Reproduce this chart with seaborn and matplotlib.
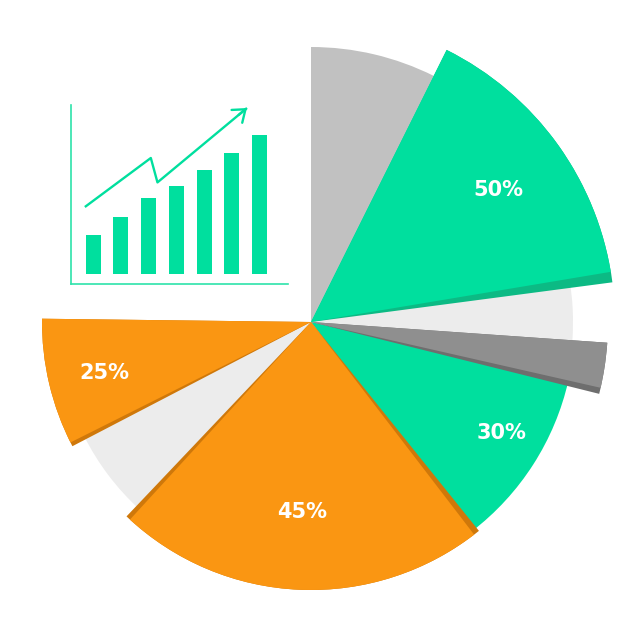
import numpy as np
import matplotlib
matplotlib.use("Agg")
import matplotlib.pyplot as plt
from matplotlib.patches import Wedge
import seaborn as sns

# pie slices, clockwise from 12 o'clock (degrees of the circle)
slice_values = [26.5, 54, 13.5, 8.8, 39.7, 80, 20.9, 27.3, 89.3]
slice_radius = [275, 304, 262, 297, 264, 268, 254, 269, 0]
slice_labels = ['', '50%', '', '', '30%', '45%', '', '25%', '']
slice_colors = ['#c1c1c1', '#00df9e', '#ececec', '#8f8f8f', '#00df9e',
                '#fa9612', '#ececec', '#fa9612', 'none']
# darker side face of the "raised" slices
shadow_colors = [None, '#0cba84', None, '#6e6e6e', None,
                 '#cf780a', None, '#cf780a', None]
shadow_extend = [(0, 0), (2.0, 0), (0, 0), (1.2, 0), (0, 0),
                 (1.0, 1.3), (0, 0), (0, 0.9), (0, 0)]
label_dist = [0, 229, 0, 0, 221, 190, 0, 213, 0]
label_turn = [0, -1.3, 0, 0, 2.4, -0.2, 0, 0.8, 0]

# little bar chart icon
icon_bars = ['a', 'b', 'c', 'd', 'e', 'f', 'g']
icon_heights = [39, 57, 76, 88, 104, 121, 139]
trend_x = [-0.30, 2.08, 2.32, 5.55]
trend_y = [67, 116, 91.6, 166]

GREEN = '#00df9e'
CX, CY = 311, 302

fig = plt.figure(figsize=(6.4, 6.24), dpi=100)
ax = fig.add_axes([0, 0, 1, 1])

wedges, _ = ax.pie(slice_values, colors=slice_colors, startangle=90,
                   counterclock=False, center=(CX, CY), radius=1,
                   wedgeprops=dict(linewidth=0))

for i, w in enumerate(wedges):
    w.set_radius(slice_radius[i])
    w.set_zorder(3 if shadow_colors[i] else 1)
    if shadow_colors[i]:
        lo, hi = shadow_extend[i]
        sh = Wedge((CX, CY), slice_radius[i], w.theta1 - lo, w.theta2 + hi,
                   color=shadow_colors[i], linewidth=0, zorder=2)
        ax.add_patch(sh)
    if slice_labels[i]:
        mid = np.deg2rad((w.theta1 + w.theta2) / 2 + label_turn[i])
        ax.text(CX + label_dist[i] * np.cos(mid), CY + label_dist[i] * np.sin(mid),
                slice_labels[i], color='white', fontsize=15, fontweight='bold',
                family='DejaVu Sans', ha='center', va='center', zorder=5)

ax.set_xlim(0, 640)
ax.set_ylim(0, 624)
ax.set_aspect('equal')
ax.axis('off')

# inset icon
axin = fig.add_axes([71 / 640, 340 / 624, 217 / 640, 179 / 624])
sns.barplot(x=icon_bars, y=icon_heights, color=GREEN, saturation=1,
            width=0.54, ax=axin)
axin.plot(trend_x, trend_y, color=GREEN, lw=1.7, solid_capstyle='butt')
axin.annotate('', xy=(trend_x[-1], trend_y[-1]),
              xytext=(trend_x[-1] - 0.3, trend_y[-1] - 6.9),
              arrowprops=dict(arrowstyle='->,head_length=0.4,head_width=0.3',
                              color=GREEN, lw=1.7, mutation_scale=20,
                              shrinkA=0, shrinkB=0))
axin.set_xlim(-0.80, 7.03)
axin.set_ylim(-10, 169)
axin.set(xlabel='', ylabel='', xticks=[], yticks=[])
axin.patch.set_alpha(0)
for s in ['top', 'right']:
    axin.spines[s].set_visible(False)
for s in ['left', 'bottom']:
    axin.spines[s].set_color('#2ee3aa')
    axin.spines[s].set_linewidth(1.2)

fig.savefig('out.png', dpi=100, facecolor='white')
